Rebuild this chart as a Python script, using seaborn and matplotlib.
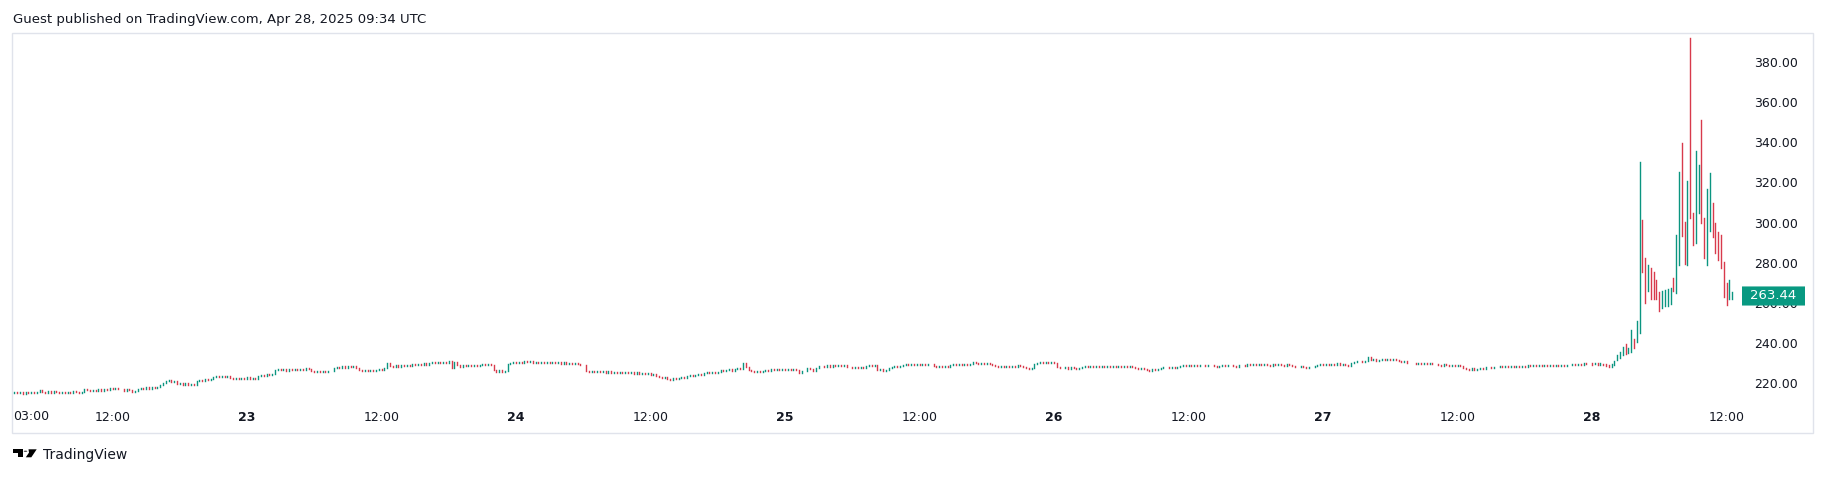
import numpy as np
import pandas as pd
import matplotlib
matplotlib.use("Agg")
import matplotlib.pyplot as plt
from matplotlib.patches import Rectangle, Polygon, Circle, FancyBboxPatch
import matplotlib.transforms as mtransforms
import seaborn as sns

# 15-min closes (Apr 22 starts at 03:15)
apr22_close = [215.6, 215.0, 215.5,
               214.9, 215.6, 215.1, 215.7, 215.0, 215.5, 216.9, 215.9,
               215.3, 216.0, 215.4, 216.1, 215.5, 215.0, 215.7, 215.2,
               215.9, 215.4, 216.1, 215.6, 215.2, 215.9, 217.3, 216.6,
               216.0, 216.9, 216.3, 217.0, 216.4, 217.1, 216.6, 217.6,
               217.0, 217.8, 217.2, 217.0, 216.4, 217.2, 216.5, 215.6,
               216.4, 217.2, 217.9, 217.3, 218.0, 217.4, 218.2, 217.6,
               218.1, 219.2, 220.1, 220.9, 221.4, 220.5, 220.9, 219.8,
               220.3, 219.4, 219.9, 219.2, 219.8, 219.1, 220.9, 221.8,
               221.2, 222.0, 221.4, 222.3, 223.2, 223.8, 223.1, 223.7,
               223.0, 223.5, 222.7, 222.2, 222.8, 222.1, 222.7, 222.3]
apr23_close = [222.9, 222.2, 222.8, 222.3, 223.4, 224.2, 223.8, 224.6,
               224.1, 224.7, 226.8, 227.3, 226.5, 227.0, 226.3, 226.9,
               226.4, 227.2, 226.7, 227.3, 226.8, 227.4, 226.9, 226.3,
               225.7, 226.3, 225.6, 226.1, 225.5, 226.2, 226.0, 227.7,
               228.3, 227.6, 228.4, 227.8, 228.5, 227.9, 228.4, 227.5,
               226.8, 226.2, 226.8, 226.1, 226.7, 226.0, 226.6, 227.2,
               226.7, 227.4, 229.9, 228.6, 228.2, 228.9, 228.3, 229.1,
               228.6, 229.3, 228.7, 229.4, 228.9, 229.7, 229.2, 229.9,
               229.3, 230.0, 230.6, 230.0, 230.7, 230.1, 230.8, 230.3,
               230.9, 227.6, 230.4, 228.9, 228.3, 229.0, 228.4, 229.1,
               228.5, 229.2, 228.6, 229.3, 229.8, 229.2, 229.7, 229.0,
               226.5, 225.8, 226.4, 225.7, 226.2, 229.5, 230.0, 230.6]
apr24_close = [230.1, 230.8, 230.2, 230.9, 230.4, 230.9, 230.3, 230.8,
               230.2, 230.7, 230.1, 230.6, 230.0, 230.6, 229.9, 230.4,
               229.8, 230.4, 229.7, 230.2, 229.6, 230.1, 229.5, 229.2,
               229.0, 226.2, 225.7, 226.2, 225.6, 226.1, 225.4, 226.0,
               225.3, 225.9, 225.2, 225.8, 225.1, 225.7, 225.0, 225.6,
               224.9, 225.5, 224.8, 225.4, 224.7, 225.2, 224.6, 224.9,
               224.2, 224.6, 223.7, 223.3, 222.7, 223.0, 222.2, 221.8,
               222.5, 221.9, 222.8, 223.1, 222.5, 223.4, 223.9, 223.5,
               224.3, 224.8, 224.3, 225.1, 225.5, 224.9, 225.7, 225.2,
               225.8, 226.4, 225.9, 226.5, 226.9, 226.3, 227.1, 227.4,
               226.9, 230.3, 228.0, 226.6, 226.0, 225.5, 226.1, 225.4,
               225.9, 226.6, 226.2, 226.9, 226.4, 227.1, 226.6, 227.2]
apr25_close = [226.7, 227.3, 226.8, 227.1, 226.5, 225.3, 225.9, 226.3,
               227.5, 227.0, 226.3, 227.8, 228.4, 228.8, 228.2, 228.9,
               228.3, 228.9, 228.4, 229.0, 228.5, 228.9, 228.3, 228.0,
               227.6, 228.3, 227.7, 228.2, 227.8, 228.6, 229.1, 228.7,
               229.3, 226.4, 226.9, 226.2, 226.7, 227.6, 228.1, 228.5,
               228.0, 228.8, 229.2, 229.5, 228.9, 229.6, 229.1, 229.7,
               229.0, 229.6, 229.0, 229.4, 229.5, 228.6, 228.1, 228.6,
               227.9, 228.4, 228.0, 229.1, 229.4, 228.9, 229.6, 229.0,
               229.5, 228.9, 229.5, 230.7, 230.2, 229.7, 230.3, 229.6,
               230.0, 229.4, 229.0, 228.5, 228.0, 228.6, 228.0, 228.5,
               228.1, 228.8, 228.3, 228.9, 228.4, 228.0, 227.5, 227.1,
               227.6, 229.7, 230.1, 230.5, 229.9, 230.5, 230.0, 230.6]
apr26_close = [230.1, 228.3, 227.8, 227.4, 227.9, 227.3, 227.9, 227.4,
               227.1, 227.7, 228.2, 228.6, 228.0, 228.5, 227.9, 228.4,
               228.0, 228.7, 228.1, 228.6, 227.9, 228.5, 228.0, 228.7,
               228.2, 228.8, 228.1, 228.6, 228.0, 227.4, 227.0, 227.6,
               227.0, 226.7, 226.3, 226.9, 226.4, 227.0, 227.5, 227.9,
               228.3, 227.7, 228.3, 227.8, 228.2, 228.7, 228.9, 228.4,
               229.1, 228.5, 229.0, 228.4, 228.9, 229.3, 228.6, 229.0,
               229.3, 228.7, 228.3, 228.8, 229.1, 228.5, 228.9, 229.2,
               228.6, 228.3, 228.9, 229.3, 228.8, 229.4, 228.9, 229.5,
               229.0, 229.6, 229.1, 229.7, 229.2, 228.8, 229.4, 229.0,
               229.6, 229.1, 228.8, 229.4, 229.0, 228.6, 228.3, 228.0,
               228.6, 228.1, 227.7, 228.3, 227.9, 228.5, 229.0, 229.5]
apr27_close = [229.0, 229.6, 229.1, 229.7, 229.2, 229.9, 229.3, 229.8,
               229.2, 228.8, 229.9, 230.6, 230.9, 231.3, 230.6, 231.2,
               232.9, 231.5, 231.9, 231.3, 231.8, 232.2, 231.6, 232.1,
               231.5, 232.0, 231.6, 231.1, 230.7, 231.1, 230.3, 229.9,
               230.3, 229.7, 230.2, 229.6, 230.1, 229.5, 230.0, 229.4,
               229.8, 229.1, 228.8, 229.4, 228.9, 228.6, 229.2, 228.7,
               229.0, 228.4, 227.5, 227.0, 226.8, 227.5, 226.7, 227.3,
               227.6, 227.1, 227.9, 228.3, 227.7, 228.3, 227.9, 228.5,
               227.9, 228.5, 228.0, 228.6, 228.1, 228.6, 228.2, 228.7,
               228.3, 229.0, 228.5, 229.1, 228.6, 229.2, 228.7, 229.3,
               228.8, 229.3, 228.7, 229.2, 228.6, 229.1, 228.5, 229.2,
               229.0, 229.7, 229.2, 229.8, 229.3, 229.9, 229.4, 229.8]
# Apr 28, full OHLC (00:00 .. 12:30)
apr28_open = [229.8, 229.5, 229.9, 229.4, 229.7, 229.2, 229.0, 228.3,
              229.2, 231.7, 232.6, 234.3, 239.3, 235.1, 235.8, 241.8,
              240.8, 245.0, 301.0, 281.5, 266.0, 277.2, 275.0, 271.0,
              263.5, 258.0, 258.5, 258.8, 260.0, 272.0, 265.5, 279.5,
              339.0, 300.0, 279.5, 391.5, 304.5, 290.0, 305.0, 350.5,
              302.0, 279.5, 296.3, 309.3, 299.3, 295.3, 293.5, 280.3,
              269.5, 261.8, 262.0]
apr28_high = [230.1, 230.0, 230.0, 229.9, 229.8, 229.5, 229.2, 229.4,
              231.3, 234.1, 235.7, 238.2, 239.5, 237.4, 246.5, 242.0,
              251.0, 330.3, 301.2, 282.4, 278.8, 277.6, 275.5, 271.4,
              265.2, 266.0, 266.5, 266.7, 267.2, 272.4, 293.9, 325.3,
              339.4, 300.4, 320.8, 392.0, 304.7, 335.7, 328.6, 351.0,
              302.1, 316.7, 324.8, 309.5, 299.6, 295.5, 293.8, 280.5,
              269.7, 271.4, 265.6]
apr28_low = [229.3, 229.4, 229.3, 229.3, 229.0, 228.6, 228.0, 228.1,
             229.0, 231.6, 232.4, 234.1, 234.6, 235.0, 235.7, 237.4,
             240.7, 244.9, 275.5, 260.0, 266.0, 261.9, 261.7, 261.7,
             255.8, 257.7, 258.3, 258.4, 259.7, 266.0, 265.0, 279.0,
             293.1, 279.6, 279.1, 302.1, 289.0, 289.7, 304.7, 300.0,
             282.2, 279.0, 296.0, 293.0, 284.7, 281.4, 277.2, 263.1,
             259.0, 261.7, 261.7]
apr28_close = [229.5, 229.9, 229.4, 229.7, 229.2, 229.0, 228.3, 229.2,
               231.0, 233.6, 235.4, 237.9, 234.8, 237.2, 246.0, 237.6,
               250.6, 301.0, 276.0, 266.5, 278.0, 266.0, 264.0, 263.0,
               256.5, 265.5, 266.0, 266.3, 267.0, 266.5, 293.0, 324.5,
               293.5, 280.0, 320.5, 302.5, 289.5, 335.0, 328.3, 300.5,
               282.5, 316.3, 324.5, 293.3, 285.0, 281.7, 277.5, 263.4,
               259.3, 271.0, 263.44]
first_open = 215.4
last_price = 263.44
price_ticks = [220, 240, 260, 280, 300, 320, 340, 360, 380]
time_ticks = ["2025-04-22 12:00", "2025-04-23 00:00", "2025-04-23 12:00", "2025-04-24 00:00",
              "2025-04-24 12:00", "2025-04-25 00:00", "2025-04-25 12:00", "2025-04-26 00:00",
              "2025-04-26 12:00", "2025-04-27 00:00", "2025-04-27 12:00", "2025-04-28 00:00",
              "2025-04-28 12:00"]
time_labels = ["12:00", "23", "12:00", "24", "12:00", "25", "12:00", "26",
               "12:00", "27", "12:00", "28", "12:00"]

# build candle frame
closes = apr22_close + apr23_close + apr24_close + apr25_close + apr26_close + apr27_close
opens = [first_open] + closes[:-1]
df = pd.DataFrame({
    "open": opens + apr28_open,
    "high": list(np.maximum(opens, closes)) + apr28_high,
    "low": list(np.minimum(opens, closes)) + apr28_low,
    "close": closes + apr28_close,
})
df["time"] = pd.date_range("2025-04-22 03:15", periods=len(df), freq="15min")
df["up"] = df["close"] >= df["open"]

green = "#0b9580"
red = "#d83a4c"
txt = "#131722"

sns.set_theme(style="white")
plt.rcParams["font.family"] = ["DejaVu Sans"]

W, H = 1826, 478
fig = plt.figure(figsize=(W / 100, H / 100), dpi=100)
fig.patch.set_facecolor("white")

# outer chart frame
fig.add_artist(Rectangle((12 / W, 1 - 433 / H), (1813 - 12) / W, (433 - 33) / H,
                         transform=fig.transFigure, fill=False, ec="#e0e3eb", lw=1))

ax = fig.add_axes([12 / W, 1 - 405 / H, (1740 - 12) / W, (405 - 33) / H])
ax.set_facecolor("none")
ax.vlines(df["time"], df["low"], df["high"],
          colors=np.where(df["up"], green, red), linewidth=1.0, capstyle="projecting")

ax.set_xlim(pd.Timestamp("2025-04-22 03:02"), pd.Timestamp("2025-04-28 13:12"))
ax.set_ylim(209.2, 394.3)
for s in ax.spines.values():
    s.set_visible(False)

ax.yaxis.tick_right()
ax.set_yticks(price_ticks)
ax.set_yticklabels([f"{p:.2f}" for p in price_ticks])
ax.tick_params(axis="y", length=0, pad=10, labelsize=9, labelcolor=txt)

ax.set_xticks(pd.to_datetime(time_ticks))
ax.set_xticklabels(time_labels)
ax.tick_params(axis="x", length=0, pad=4.5, labelsize=9, labelcolor=txt)
for lab in ax.get_xticklabels():
    if lab.get_text() != "12:00":
        lab.set_fontweight("bold")
fig.text(31 / W, 1 - 417 / H, "03:00", ha="center", va="center", fontsize=9, color=txt)

# last price badge (it covers the 260.00 label, as on the chart)
blend = mtransforms.blended_transform_factory(ax.transAxes, ax.transData)
x0 = (1742 - 12) / 1728
ax.add_patch(FancyBboxPatch((x0, last_price - 4.75), 63 / 1728, 9.5, transform=blend,
                            boxstyle="round,pad=0,rounding_size=0.0012",
                            fc="#089981", ec="none", clip_on=False, zorder=5, mutation_aspect=1))
ax.text(x0 + 31.5 / 1728, last_price, f"{last_price:.2f}", transform=blend,
        ha="center", va="center", fontsize=9.5, color="white", zorder=6, clip_on=False)

fig.text(13 / W, 1 - 20 / H, "Guest published on TradingView.com, Apr 28, 2025 09:34 UTC",
         ha="left", va="center", fontsize=9.5, color=txt)

# TradingView footer logo
def fp(x, y):
    return (x / W, 1 - y / H)
fig.add_artist(Polygon([fp(13.3, 449.3), fp(23.3, 449.3), fp(23.3, 457.3), fp(18.3, 457.3),
                        fp(18.3, 452.7), fp(13.3, 452.7)], closed=True,
                       transform=fig.transFigure, fc="black", ec="none"))
fig.add_artist(Circle(fp(25.5, 451.2), 1.8 / W, transform=fig.transFigure, fc="black", ec="none"))
fig.add_artist(Polygon([fp(28.5, 449.3), fp(36.7, 449.3), fp(31.3, 457.3), fp(25.8, 457.3),
                        fp(29.0, 452.6)], closed=True,
                       transform=fig.transFigure, fc="black", ec="none"))
fig.text(43 / W, 1 - 455 / H, "TradingView", ha="left", va="center", fontsize=10, color=txt)

fig.savefig("out.png", dpi=100, facecolor="white")
